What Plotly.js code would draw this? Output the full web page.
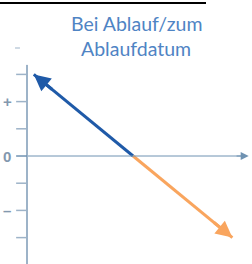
<!DOCTYPE html>
<html><head><meta charset="utf-8">
<script src="https://cdn.plot.ly/plotly-3.0.1.min.js"></script>
<style>html,body{margin:0;padding:0;background:#fff;}#c{width:252px;height:264px;}</style>
</head><body><div id="c"></div>
<script>
// data (payoff at expiry, in tick units)
const headingText = "Short SODA Future";
const titleLines = ["Bei Ablauf/zum", "Ablaufdatum"];
const tickValues = [3, 2, 1, 0, -1, -2, -3];
const tickLabelValues = [2, 0, -2];
const tickLabels = ["+", "0", "–"];
const longX = [3.9, 0.25];
const longY = [0, 3.0];
const shortX = [3.9, 7.55];
const shortY = [0, -3.0];
const xAxisEnd = 8.15;
const yAxisTop = 3.35;

const blue = "#1F5AA8", orange = "#F9A55E", axisCol = "#6F92B2", axisCol2 = "#9DB3C8";
const XR = [-0.993, 8.272], YR = [-3.97, 5.735];

const traces = [
  {x: longX, y: longY, mode: "lines", line: {color: blue, width: 3}, hoverinfo: "skip"},
  {x: shortX, y: shortY, mode: "lines", line: {color: orange, width: 3}, hoverinfo: "skip"}
];

const shapes = [
  {type: "line", xref: "x", yref: "y", x0: 0, x1: xAxisEnd - 0.1, y0: 0, y1: 0, line: {color: axisCol, width: 1}},
  {type: "line", xref: "x", yref: "y", x0: 0, x1: 0, y0: YR[0], y1: yAxisTop, line: {color: axisCol2, width: 2}},
  {type: "line", xref: "x", yref: "y", x0: -0.44, x1: -0.26, y0: 3.97, y1: 3.97, line: {color: axisCol2, width: 1}},
  {type: "line", xref: "paper", yref: "paper", x0: 0, x1: 206/252, y0: 1 - 3/264, y1: 1 - 3/264, line: {color: "#000", width: 2}}
];
tickValues.forEach(v => shapes.push({type: "line", xref: "x", yref: "y", x0: -0.4, x1: 0, y0: v, y1: v,
  line: {color: v === 0 ? axisCol : axisCol2, width: 1.5}}));

const annotations = [
  {x: longX[1], y: longY[1], ax: longX[1] + (longX[0]-longX[1])*0.2, ay: longY[1] + (longY[0]-longY[1])*0.2,
   xref: "x", yref: "y", axref: "x", ayref: "y", showarrow: true, arrowhead: 2, arrowsize: 1.1, arrowwidth: 3, arrowcolor: blue, text: ""},
  {x: shortX[1], y: shortY[1], ax: shortX[1] - (shortX[1]-shortX[0])*0.2, ay: shortY[1] - (shortY[1]-shortY[0])*0.2,
   xref: "x", yref: "y", axref: "x", ayref: "y", showarrow: true, arrowhead: 2, arrowsize: 1.1, arrowwidth: 3, arrowcolor: orange, text: ""},
  {x: xAxisEnd, y: 0, ax: xAxisEnd - 0.5, ay: 0, xref: "x", yref: "y", axref: "x", ayref: "y",
   showarrow: true, arrowhead: 2, arrowsize: 1.6, arrowwidth: 1, arrowcolor: axisCol, text: ""},
  {xref: "paper", yref: "paper", x: 136/252, y: 1 - 23/264, xanchor: "center", yanchor: "middle", showarrow: false,
   text: titleLines[0], font: {family: "Lato, sans-serif", size: 19.5, color: "#4F84C4"}},
  {xref: "paper", yref: "paper", x: 136/252, y: 1 - 49/264, xanchor: "center", yanchor: "middle", showarrow: false,
   text: titleLines[1], font: {family: "Lato, sans-serif", size: 19.5, color: "#4F84C4"}},
  {xref: "paper", yref: "paper", x: 103/252, y: 1 - 2/264, xanchor: "center", yanchor: "bottom", showarrow: false,
   text: "<b>" + headingText + "</b>", font: {family: "Liberation Serif, serif", size: 20, color: "#000"}}
];
tickLabelValues.forEach((v, i) => annotations.push({x: -0.72, y: v, xref: "x", yref: "y", showarrow: false,
  text: "<b>" + tickLabels[i] + "</b>", font: {family: "Liberation Sans, sans-serif", size: 15, color: "#8398AE"}}));

const layout = {
  width: 252, height: 264, margin: {l: 0, r: 0, t: 0, b: 0},
  paper_bgcolor: "#fff", plot_bgcolor: "#fff", showlegend: false,
  xaxis: {range: XR, visible: false, fixedrange: true},
  yaxis: {range: YR, visible: false, fixedrange: true},
  shapes: shapes, annotations: annotations
};
Plotly.newPlot("c", traces, layout, {staticPlot: true, displayModeBar: false});
</script></body></html>
